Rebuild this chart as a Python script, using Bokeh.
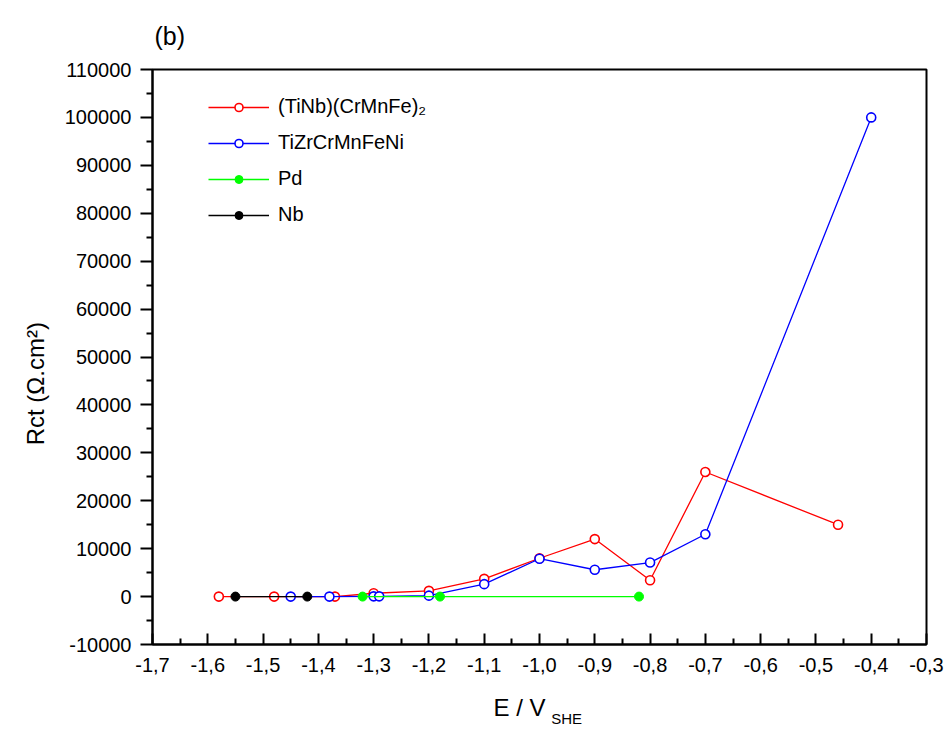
from bokeh.plotting import figure
from bokeh.models import (Range1d, FixedTicker, CustomJSTickFormatter, Legend, LegendItem, LinearAxis)
from bokeh.embed import file_html
from bokeh.resources import INLINE

# ---- data ----
tinb_x = [-1.58, -1.48, -1.37, -1.30, -1.20, -1.10, -1.00, -0.90, -0.80, -0.70, -0.46]
tinb_y = [0, 0, 0, 700, 1200, 3700, 8000, 12000, 3400, 26000, 15000]

tizr_x = [-1.45, -1.38, -1.30, -1.29, -1.20, -1.10, -1.00, -0.90, -0.80, -0.70, -0.40]
tizr_y = [0, 0, 50, 50, 200, 2600, 7900, 5600, 7100, 13000, 100000]

pd_x = [-1.32, -1.18, -0.82]
pd_y = [0, 0, 0]

nb_x = [-1.55, -1.42]
nb_y = [0, 0]

x_major = [-1.7, -1.6, -1.5, -1.4, -1.3, -1.2, -1.1, -1.0, -0.9, -0.8, -0.7, -0.6, -0.5, -0.4, -0.3]
x_minor = [-1.65, -1.55, -1.45, -1.35, -1.25, -1.15, -1.05, -0.95, -0.85, -0.75, -0.65, -0.55, -0.45, -0.35]
y_major = [-10000, 0, 10000, 20000, 30000, 40000, 50000, 60000, 70000, 80000, 90000, 100000, 110000]
y_minor = [-5000, 5000, 15000, 25000, 35000, 45000, 55000, 65000, 75000, 85000, 95000, 105000]

FONT = "Liberation Sans"
NBSP = "\u00a0"

p = figure(width=946, height=729, output_backend="svg", toolbar_location=None,
           x_range=Range1d(-1.7, -0.3), y_range=Range1d(-10000, 110000),
           min_border_left=152, min_border_right=20, min_border_top=69, min_border_bottom=85)
p.background_fill_color = "white"
p.border_fill_color = "white"
p.outline_line_color = "black"
p.outline_line_width = 2
p.xgrid.visible = False
p.ygrid.visible = False

p.title.text = "(b)"
p.title.align = "left"
p.title.text_font = FONT
p.title.text_font_size = "25px"
p.title.text_font_style = "normal"
p.title.text_color = "black"
p.title.standoff = 39
p.title.offset = 2

# axes
xa = p.xaxis[0]
xa.ticker = FixedTicker(ticks=x_major, minor_ticks=x_minor)
xa.formatter = CustomJSTickFormatter(code="return tick.toFixed(1).replace('.', ',');")
xa.major_tick_in = 11
xa.major_tick_out = 0
xa.minor_tick_in = 6
xa.minor_tick_out = 0
xa.axis_line_width = 2
xa.major_tick_line_width = 2
xa.minor_tick_line_width = 2
xa.major_label_text_font = FONT
xa.major_label_text_font_size = "20px"
xa.major_label_text_color = "black"
xa.major_label_standoff = 13
xa.axis_label = "E / V" + NBSP * 6
xa.axis_label_text_font = FONT
xa.axis_label_text_font_size = "24px"
xa.axis_label_text_font_style = "normal"
xa.axis_label_text_color = "black"
xa.axis_label_standoff = 19

# subscript of the x-axis title: label of a bare axis stacked below, pulled up by a negative standoff
sub_axis = LinearAxis(ticker=FixedTicker(ticks=[]),
                      axis_line_color=None, major_tick_line_color=None, minor_tick_line_color=None,
                      major_tick_in=0, major_tick_out=0, minor_tick_in=0, minor_tick_out=0,
                      major_label_standoff=0, major_label_text_font_size="1px",
                      axis_label=NBSP * 13 + "SHE", axis_label_text_font=FONT,
                      axis_label_text_font_size="15px", axis_label_text_font_style="normal",
                      axis_label_text_color="black", axis_label_standoff=-14)
p.add_layout(sub_axis, "below")

ya = p.yaxis[0]
ya.ticker = FixedTicker(ticks=y_major, minor_ticks=y_minor)
ya.formatter = CustomJSTickFormatter(code="return tick.toFixed(0);")
ya.major_tick_in = 0
ya.major_tick_out = 12
ya.minor_tick_in = 0
ya.minor_tick_out = 6
ya.axis_line_width = 2
ya.major_tick_line_width = 2
ya.minor_tick_line_width = 2
ya.major_label_text_font = FONT
ya.major_label_text_font_size = "20px"
ya.major_label_text_color = "black"
ya.major_label_standoff = 9
ya.axis_label = "Rct (Ω.cm²)" + NBSP * 8
ya.axis_label_text_font = FONT
ya.axis_label_text_font_size = "24px"
ya.axis_label_text_font_style = "normal"
ya.axis_label_text_color = "black"
ya.axis_label_standoff = 13

# series
r1l = p.line(tinb_x, tinb_y, line_color="#FF0000", line_width=1.3)
r1m = p.scatter(tinb_x, tinb_y, marker="circle", size=9, fill_color="white", line_color="#FF0000", line_width=1.6)
r2l = p.line(tizr_x, tizr_y, line_color="#0000FF", line_width=1.3)
r2m = p.scatter(tizr_x, tizr_y, marker="circle", size=9, fill_color="white", line_color="#0000FF", line_width=1.6)
r3l = p.line(pd_x, pd_y, line_color="#00FF00", line_width=1.3)
r3m = p.scatter(pd_x, pd_y, marker="circle", size=9, fill_color="#00FF00", line_color="#00FF00")
r4l = p.line(nb_x, nb_y, line_color="black", line_width=1.3)
r4m = p.scatter(nb_x, nb_y, marker="circle", size=9, fill_color="black", line_color="black")

legend = Legend(items=[
    LegendItem(label="(TiNb)(CrMnFe)₂", renderers=[r1l, r1m]),
    LegendItem(label="TiZrCrMnFeNi", renderers=[r2l, r2m]),
    LegendItem(label="Pd", renderers=[r3l, r3m]),
    LegendItem(label="Nb", renderers=[r4l, r4m]),
], location=(56, 418))
legend.border_line_color = None
legend.background_fill_alpha = 0
legend.padding = 0
legend.margin = 0
legend.spacing = 13
legend.glyph_width = 61
legend.glyph_height = 20
legend.label_height = 20
legend.label_standoff = 9
legend.label_text_font = FONT
legend.label_text_font_size = "20px"
legend.label_text_color = "black"
p.add_layout(legend, "center")

open("out.html", "w").write(file_html(p, INLINE))
